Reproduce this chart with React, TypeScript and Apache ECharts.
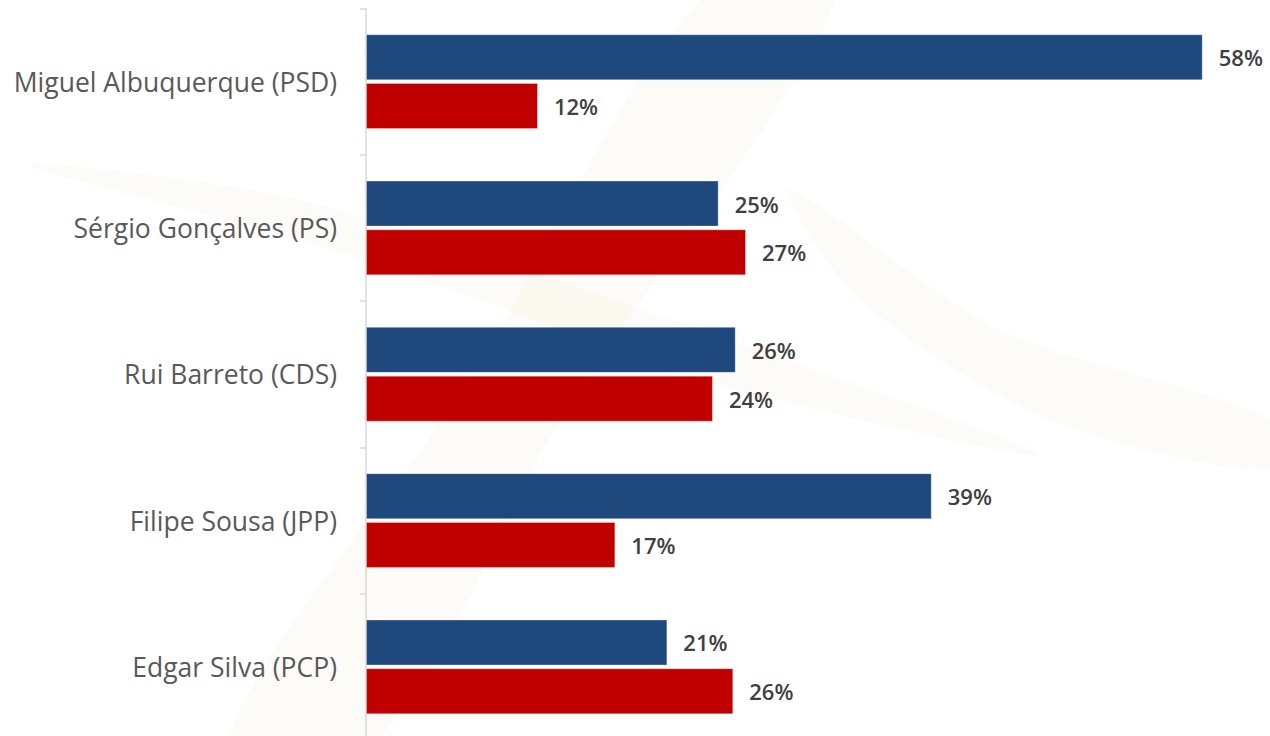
import React, { useEffect, useRef } from "react";
import * as echarts from "echarts";

const categories = [
  "Miguel Albuquerque (PSD)",
  "Sérgio Gonçalves (PS)",
  "Rui Barreto (CDS)",
  "Filipe Sousa (JPP)",
  "Edgar Silva (PCP)",
];
const blueValues = [58.39, 24.61, 25.8, 39.48, 21.03];
const redValues = [12.0, 26.52, 24.21, 17.4, 25.63];
const axisMax = 60;

export default function App() {
  const ref = useRef<HTMLDivElement>(null);
  useEffect(() => {
    if (!ref.current) return;
    const chart = echarts.init(ref.current, undefined, { renderer: "svg" });
    const wm = "#f7efdc";
    const wmOpacity = 0.22;
    const labelStyle = {
      show: true,
      position: "right",
      distance: 16,
      fontFamily: "Open Sans",
      fontWeight: 600,
      fontSize: 22,
      color: "#404040",
      formatter: (p: any) => Math.round(p.value) + "%",
    };
    chart.setOption({
      animation: false,
      backgroundColor: "#ffffff",
      graphic: [
        {
          type: "polygon",
          z: -10,
          silent: true,
          shape: {
            points: [
              [700, 0],
              [835, 0],
              [560, 420],
              [380, 736],
              [230, 736],
              [470, 380],
            ],
            smooth: 0.3,
          },
          style: { fill: wm, opacity: wmOpacity },
        },
        {
          type: "polygon",
          z: -10,
          silent: true,
          shape: {
            points: [
              [30, 165],
              [300, 200],
              [700, 330],
              [1040, 455],
              [700, 380],
              [480, 300],
              [300, 240],
            ],
            smooth: 0.3,
          },
          style: { fill: wm, opacity: wmOpacity },
        },
        {
          type: "polygon",
          z: -10,
          silent: true,
          shape: {
            points: [
              [790, 190],
              [1000, 330],
              [1270, 420],
              [1270, 470],
              [1050, 420],
              [860, 300],
            ],
            smooth: 0.3,
          },
          style: { fill: wm, opacity: wmOpacity },
        },
      ],
      grid: {
        left: 366,
        top: 8.5,
        width: axisMax * 14.33,
        height: 731.5,
        containLabel: false,
      },
      xAxis: {
        type: "value",
        min: 0,
        max: axisMax,
        show: false,
      },
      yAxis: {
        type: "category",
        data: categories,
        inverse: true,
        axisLine: { show: true, lineStyle: { color: "#d9d9d9", width: 1.5 } },
        axisTick: { show: true, length: 6, lineStyle: { color: "#d9d9d9", width: 1.5 } },
        axisLabel: {
          fontFamily: "Open Sans",
          fontSize: 26.5,
          color: "#595959",
          margin: 29,
        },
        splitLine: { show: false },
      },
      series: [
        {
          type: "bar",
          data: blueValues,
          barWidth: 46,
          barGap: "6%",
          itemStyle: { color: "#1f497d", borderColor: "rgba(255,255,255,0.3)", borderWidth: 1 },
          label: labelStyle,
        },
        {
          type: "bar",
          data: redValues,
          barWidth: 46,
          itemStyle: { color: "#c00000", borderColor: "rgba(255,255,255,0.3)", borderWidth: 1 },
          label: labelStyle,
        },
      ],
    });
    return () => chart.dispose();
  }, []);
  return (
    <div
      ref={ref}
      style={{ position: "fixed", left: 0, top: 0, width: 1270, height: 745, overflow: "hidden" }}
    />
  );
}
